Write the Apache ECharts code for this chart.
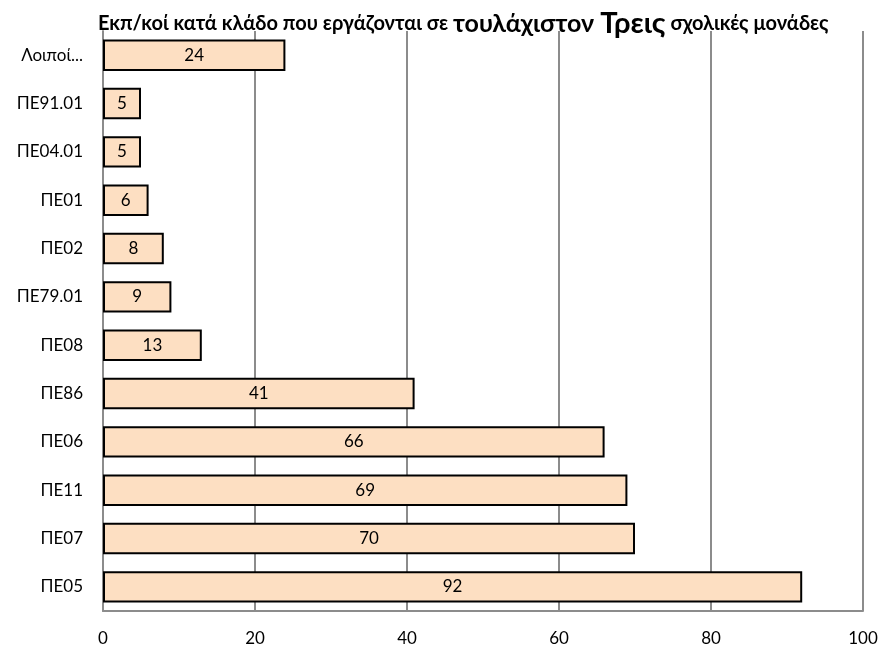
<!DOCTYPE html>
<html><head><meta charset="utf-8">
<script src="https://cdn.jsdelivr.net/npm/echarts@6/dist/echarts.min.js"></script>
<style>html,body{margin:0;padding:0;background:#fff}#c{width:882px;height:648px}</style>
</head><body><div id="c"></div>
<script>
const categories = ["ΠΕ05","ΠΕ07","ΠΕ11","ΠΕ06","ΠΕ86","ΠΕ08","ΠΕ79.01","ΠΕ02","ΠΕ01","ΠΕ04.01","ΠΕ91.01","Λοιποί..."];
const values = [92,70,69,66,41,13,9,8,6,5,5,24];
const xTicks = [0,20,40,60,80,100];

const chart = echarts.init(document.getElementById('c'), null, {renderer:'canvas'});
const FONT = 'Lato, "Open Sans", sans-serif';
chart.setOption({
  animation:false,
  backgroundColor:'#fff',
  title:{
    left:93, top:4,
    text:'{a|Εκπ/κοί κατά κλάδο που εργάζονται σε }{b|τουλάχιστον }{c|Τρεις}{a| σχολικές μονάδες}',
    textStyle:{
      rich:{
        a:{fontFamily:FONT,fontWeight:'bold',fontSize:20,color:'#000'},
        b:{fontFamily:FONT,fontWeight:'bold',fontSize:25,color:'#000'},
        c:{fontFamily:FONT,fontWeight:'bold',fontSize:29,color:'#000'}
      }
    }
  },
  grid:{left:103,right:19,top:31,bottom:37,containLabel:false},
  xAxis:{
    type:'value',min:xTicks[0],max:xTicks[xTicks.length-1],interval:20,
    axisLine:{show:true,lineStyle:{color:'#8c8c8c',width:2}},
    axisTick:{show:false},
    axisLabel:{color:'#000',fontSize:17,fontFamily:FONT,margin:19},
    splitLine:{show:true,lineStyle:{color:'#8c8c8c',width:2}}
  },
  yAxis:{
    type:'category',data:categories,
    axisLine:{show:true,lineStyle:{color:'#8c8c8c',width:2}},
    axisTick:{show:false},
    axisLabel:{color:'#000',fontSize:17,fontFamily:FONT,margin:20}
  },
  series:[{
    type:'bar',data:values,barCategoryGap:'35%',
    itemStyle:{color:'#fddfc2',borderColor:'#000',borderWidth:2},
    label:{show:true,position:'inside',color:'#000',fontSize:17,fontFamily:FONT}
  }]
});
</script></body></html>
